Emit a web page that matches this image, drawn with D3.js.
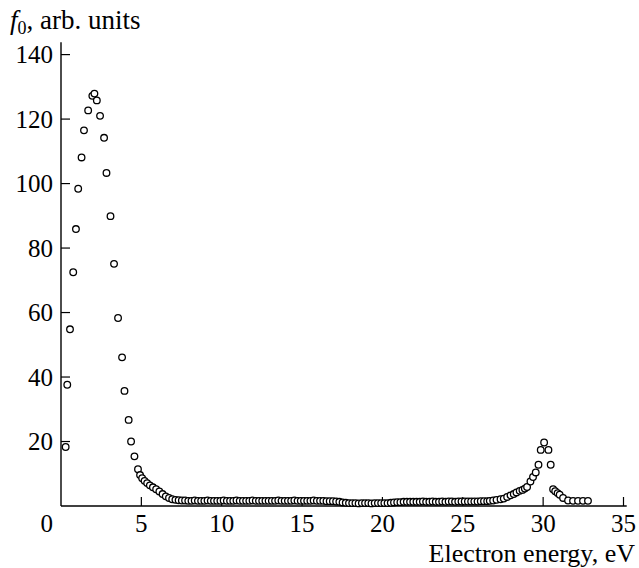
<!DOCTYPE html>
<html>
<head>
<meta charset="utf-8">
<script src="https://cdn.jsdelivr.net/npm/d3@7"></script>
<style>
	body { margin: 0; background: #fff; }
	text { font-family: "Liberation Serif", "Times New Roman", serif; fill: #000; }
</style>
</head>
<body>
<svg id="fig-f0" width="639" height="568"></svg>
<script>

// ============================================================================== //
// DATA ========================================================================= //
// ============================================================================== //

// low-energy peak
var peakE = [0.29, 0.39, 0.56, 0.76, 0.93, 1.07, 1.28, 1.43, 1.69, 1.95, 2.08, 2.23,
	2.43, 2.68, 2.83, 3.08, 3.30, 3.55, 3.80, 3.95, 4.21, 4.36, 4.57, 4.79];
var peakF = [18.3, 37.6, 54.8, 72.5, 85.9, 98.4, 108.1, 116.5, 122.7, 127.2, 127.9, 125.8,
	121.0, 114.2, 103.3, 89.9, 75.1, 58.3, 46.1, 35.7, 26.7, 20.0, 15.4, 11.4];

// decay after the peak
var tailE = [4.92, 5.05, 5.20, 5.36, 5.53, 5.72, 5.92, 6.12, 6.32, 6.52, 6.72, 6.92];
var tailF = [9.6, 8.6, 7.8, 7.1, 6.4, 5.8, 5.2, 4.5, 3.7, 3.0, 2.5, 2.1];

// flat plateau
var flatE = [7.12, 7.32, 7.52, 7.72, 7.92, 8.12, 8.32, 8.52, 8.72, 8.92,
	9.12, 9.32, 9.52, 9.72, 9.92, 10.12, 10.32, 10.52, 10.72, 10.92,
	11.12, 11.32, 11.52, 11.72, 11.92, 12.12, 12.32, 12.52, 12.72, 12.92,
	13.12, 13.32, 13.52, 13.72, 13.92, 14.12, 14.32, 14.52, 14.72, 14.92,
	15.12, 15.32, 15.52, 15.72, 15.92, 16.12, 16.32, 16.52, 16.72, 16.92,
	17.12, 17.32, 17.52, 17.72, 17.92, 18.12, 18.32, 18.52, 18.72, 18.92,
	19.12, 19.32, 19.52, 19.72, 19.92, 20.12, 20.32, 20.52, 20.72, 20.92,
	21.12, 21.32, 21.52, 21.72, 21.92, 22.12, 22.32, 22.52, 22.72, 22.92,
	23.12, 23.32, 23.52, 23.72, 23.92, 24.12, 24.32, 24.52, 24.72, 24.92,
	25.12, 25.32, 25.52, 25.72, 25.92, 26.12, 26.32, 26.52];
var flatF = [1.9, 1.8, 1.7, 1.7, 1.6, 1.6, 1.7, 1.6, 1.6, 1.6,
	1.7, 1.6, 1.6, 1.6, 1.6, 1.7, 1.6, 1.6, 1.6, 1.7,
	1.6, 1.6, 1.6, 1.6, 1.7, 1.6, 1.6, 1.6, 1.6, 1.6,
	1.6, 1.6, 1.7, 1.6, 1.6, 1.6, 1.6, 1.7, 1.6, 1.6,
	1.6, 1.6, 1.6, 1.7, 1.6, 1.6, 1.6, 1.5, 1.5, 1.5,
	1.4, 1.3, 1.1, 1.0, 0.9, 0.9, 0.9, 0.8, 0.9, 0.9,
	0.9, 0.8, 0.9, 0.9, 0.9, 0.9, 0.9, 1.0, 1.1, 1.2,
	1.2, 1.3, 1.3, 1.3, 1.3, 1.3, 1.3, 1.4, 1.3, 1.3,
	1.4, 1.3, 1.3, 1.4, 1.3, 1.4, 1.4, 1.3, 1.4, 1.4,
	1.4, 1.4, 1.4, 1.4, 1.4, 1.5, 1.5, 1.5];

// second peak near 30 eV
var hiE = [26.68, 26.89, 27.10, 27.35, 27.55, 27.76, 27.97, 28.17, 28.34, 28.54,
	28.71, 28.86, 29.00, 29.21, 29.37, 29.54, 29.71, 29.85, 30.06, 30.33,
	30.47, 30.62, 30.75, 30.90, 31.03, 31.24, 31.55, 31.86, 32.17, 32.48, 32.79];
var hiF = [1.6, 1.7, 1.9, 2.1, 2.3, 2.8, 3.3, 3.7, 4.2, 4.7,
	5.0, 5.4, 5.9, 7.6, 9.0, 10.4, 12.8, 17.4, 19.7, 17.4,
	12.8, 5.2, 4.6, 4.0, 3.5, 2.5, 1.7, 1.6, 1.6, 1.6, 1.6];

var xTicks = [5, 10, 15, 20, 25, 30, 35],
	yTicks = [20, 40, 60, 80, 100, 120, 140];

var points = [];
[[peakE, peakF], [tailE, tailF], [flatE, flatF], [hiE, hiF]].forEach(function(s) {
	s[0].forEach(function(e, i) { points.push({e: e, f: s[1][i]}); });
});

// ============================================================================== //
// DRAW ========================================================================= //
// ============================================================================== //

var svg = d3.select("#fig-f0");

var xScale = d3.scaleLinear().domain([0, 35]).range([61, 623.5]),
	yScale = d3.scaleLinear().domain([0, 140]).range([506, 54.6]);

var tickLen = 9,
	fs = 25;

// axis lines
svg.append("line")
	.attr("x1", xScale(0)).attr("x2", xScale(0))
	.attr("y1", yScale(0)).attr("y2", yScale(143.8))
	.attr("stroke", "#000").attr("stroke-width", 1.4);
svg.append("line")
	.attr("x1", xScale(0)).attr("x2", xScale(35.2))
	.attr("y1", yScale(0)).attr("y2", yScale(0))
	.attr("stroke", "#000").attr("stroke-width", 1.4);

// ticks (inside)
svg.append("g").selectAll("line")
	.data(xTicks).enter().append("line")
	.attr("x1", d => xScale(d)).attr("x2", d => xScale(d))
	.attr("y1", yScale(0)).attr("y2", yScale(0) - tickLen)
	.attr("stroke", "#000").attr("stroke-width", 1.2);
svg.append("g").selectAll("line")
	.data(yTicks).enter().append("line")
	.attr("x1", xScale(0)).attr("x2", xScale(0) + tickLen)
	.attr("y1", d => yScale(d)).attr("y2", d => yScale(d))
	.attr("stroke", "#000").attr("stroke-width", 1.2);

// tick labels
svg.append("g").selectAll("text")
	.data(xTicks).enter().append("text")
	.attr("x", d => xScale(d))
	.attr("y", 532)
	.attr("text-anchor", "middle")
	.attr("font-size", fs)
	.text(d => d);
svg.append("g").selectAll("text")
	.data(yTicks).enter().append("text")
	.attr("x", xScale(0) - 8)
	.attr("y", d => yScale(d) + 8.5)
	.attr("text-anchor", "end")
	.attr("font-size", fs)
	.text(d => d);
svg.append("text")
	.attr("x", xScale(0) - 8)
	.attr("y", 532)
	.attr("text-anchor", "end")
	.attr("font-size", fs)
	.text("0");

// axis titles
var yTitle = svg.append("text")
	.attr("x", 10)
	.attr("y", 29)
	.attr("font-size", 27);
yTitle.append("tspan").attr("font-style", "italic").text("f");
yTitle.append("tspan").attr("font-size", 18).attr("dy", 5).text("0");
yTitle.append("tspan").attr("dy", -5).text(", arb. units");

svg.append("text")
	.attr("x", 635)
	.attr("y", 562)
	.attr("text-anchor", "end")
	.attr("font-size", 26)
	.text("Electron energy, eV");

// data markers
svg.append("g").selectAll("circle")
	.data(points).enter().append("circle")
	.attr("cx", d => xScale(d.e))
	.attr("cy", d => yScale(d.f))
	.attr("r", 3.3)
	.attr("fill", "#fff")
	.attr("stroke", "#000")
	.attr("stroke-width", 1.3);

</script>
</body>
</html>
